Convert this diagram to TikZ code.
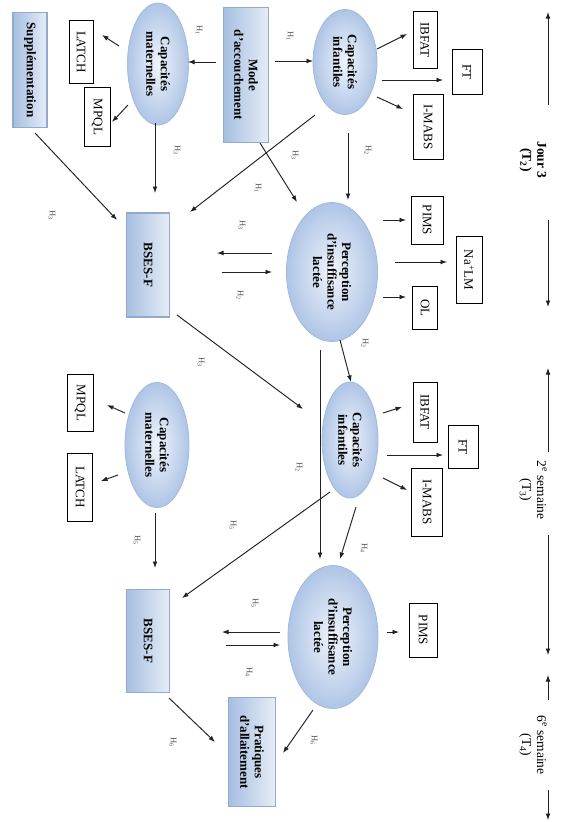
\documentclass[tikz,border=0pt]{standalone}
\usepackage{fontspec}
\setmainfont{Liberation Serif}
\usetikzlibrary{shapes.geometric,arrows.meta}
\definecolor{ellout}{HTML}{AFC5E6}
\definecolor{ellin}{HTML}{EFF4FB}
\definecolor{ellrim}{HTML}{A3BADD}
\definecolor{boxdark}{HTML}{A6BFE0}
\definecolor{boxlight}{HTML}{E6EDF7}
\definecolor{boxedge}{HTML}{93AACD}
\definecolor{linec}{HTML}{222222}
\begin{document}
\begin{tikzpicture}[x=1pt,y=-1pt,
  ell/.style={ellipse, rotate=-90, inner sep=0pt, shade, inner color=ellin, outer color=ellout,
    draw=ellrim, line width=0.8pt,
    font=\bfseries\fontsize{13}{14.5}\selectfont, align=center},
  gbox/.style={rectangle, rotate=-90, draw=boxedge, line width=1.1pt, left color=boxdark, right color=boxlight,
    font=\bfseries\fontsize{13}{14.5}\selectfont, align=center, inner sep=0pt},
  wbox/.style={rectangle, rotate=-90, draw=black, line width=0.6pt, fill=white, inner sep=0pt,
    font=\fontsize{13}{14.5}\selectfont},
  hlab/.style={rotate=-90, font=\fontsize{8.5}{9}\selectfont, text=black!70, inner sep=0pt},
  tlab/.style={rotate=-90, align=center, font=\fontsize{13.5}{15}\selectfont, inner sep=0pt},
  arr/.style={draw=linec, line width=0.95pt, -{Latex[length=6.5pt,width=4.8pt]}},
]
\useasboundingbox (0,0) rectangle (564,822);
\fill[white] (0,0) rectangle (564,822);

% ---------- Jour 3 ----------
\node[gbox, minimum width=115pt, minimum height=34pt] (supp) at (30,70) {Supplémentation};
\node[wbox, minimum width=63pt, minimum height=24pt] (latch1) at (81,52) {LATCH};
\node[wbox, minimum width=59pt, minimum height=26pt] (mpql1) at (97,117) {MPQL};
\node[ell, minimum width=122pt, minimum height=61pt] (mat1) at (158,64) {Capacités\\maternelles};
\node[gbox, minimum width=135pt, minimum height=45pt] (mode) at (246,75) {Mode\\d’accouchement};
\node[ell, minimum width=105pt, minimum height=64pt] (inf1) at (345,62) {Capacités\\infantiles};
\node[wbox, minimum width=57pt, minimum height=24pt] (ibfat1) at (425,40) {IBFAT};
\node[wbox, minimum width=45pt, minimum height=30pt] (ft1) at (467,72) {FT};
\node[wbox, minimum width=65pt, minimum height=30pt] (imabs1) at (428,127) {I-MABS};
\node[gbox, minimum width=104pt, minimum height=43pt] (bses1) at (148,265) {BSES-F};
\node[ell, minimum width=139pt, minimum height=91pt] (perc1) at (332,272) {Perception\\d’insuffisance\\lactée};
\node[wbox, minimum width=48pt, minimum height=32pt] (pims1) at (427,220) {PIMS};
\node[wbox, minimum width=67pt, minimum height=26pt] (nalm) at (469,270) {Na\textsuperscript{+}LM};
\node[wbox, minimum width=43pt, minimum height=25pt] (ol) at (425,308) {OL};

% ---------- 2e semaine ----------
\node[ell, minimum width=116pt, minimum height=56pt] (inf2) at (350,440) {Capacités\\infantiles};
\node[wbox, minimum width=60pt, minimum height=24pt] (ibfat2) at (425,412) {IBFAT};
\node[wbox, minimum width=43pt, minimum height=30pt] (ft2) at (463,447) {FT};
\node[wbox, minimum width=68pt, minimum height=31pt] (imabs2) at (427,502) {I-MABS};
\node[ell, minimum width=125pt, minimum height=64pt] (mat2) at (157,445) {Capacités\\maternelles};
\node[wbox, minimum width=57pt, minimum height=26pt] (mpql2) at (80,403) {MPQL};
\node[wbox, minimum width=68pt, minimum height=25pt] (latch2) at (80,487) {LATCH};

% ---------- 6e semaine ----------
\node[gbox, minimum width=103pt, minimum height=43pt] (bses2) at (148,641) {BSES-F};
\node[ell, minimum width=143pt, minimum height=90pt] (perc2) at (333,637) {Perception\\d’insuffisance\\lactée};
\node[wbox, minimum width=54pt, minimum height=28pt] (pims2) at (423,630) {PIMS};
\node[gbox, minimum width=109pt, minimum height=47pt] (prat) at (252,752) {Pratiques\\d’allaitement};

% ---------- connectors ----------
\draw[arr] ([shift={(-30,-13)}]mode.center) -- ([shift={(30,-2)}]mat1.center);
\draw[arr] ([shift={(29,-14)}]mode.center) -- ([shift={(-32,-1)}]inf1.center);
\draw[arr] ([shift={(-39,-18)}]mat1.center) -- ([shift={(21,-17)}]latch1.center);
\draw[arr] ([shift={(-30,41)}]mat1.center) -- ([shift={(15,5)}]mpql1.center);
\draw[arr] ([shift={(-3,59)}]mat1.center) -- ([shift={(7,-72)}]bses1.center);
\draw[arr] ([shift={(5,63)}]supp.center) -- ([shift={(-31,-45)}]bses1.center);
\draw[arr] ([shift={(-30,53)}]inf1.center) -- ([shift={(42,-53)}]bses1.center);
\draw[arr] ([shift={(14,68)}]mode.center) -- ([shift={(-35,-70)}]perc1.center);
\draw[arr] ([shift={(3,71)}]inf1.center) -- ([shift={(16,-72)}]perc1.center);
\draw[arr] ([shift={(32,-13)}]inf1.center) -- ([shift={(-18,-6)}]ibfat1.center);
\draw[arr] ([shift={(37,18)}]inf1.center) -- ([shift={(-24,8)}]ft1.center);
\draw[arr] ([shift={(32,35)}]inf1.center) -- ([shift={(-25,-18)}]imabs1.center);
\draw[arr] ([shift={(-60,-19)}]perc1.center) -- ([shift={(69,-12)}]bses1.center);
\draw[arr] ([shift={(74,7)}]bses1.center) -- ([shift={(-60,0)}]perc1.center);
\draw[arr] ([shift={(51,-52)}]perc1.center) -- ([shift={(-21,0)}]pims1.center);
\draw[arr] ([shift={(63,-10)}]perc1.center) -- ([shift={(-22,-8)}]nalm.center);
\draw[arr] ([shift={(51,25)}]perc1.center) -- ([shift={(-19,-11)}]ol.center);
\draw[arr] ([shift={(8,68)}]perc1.center) -- ([shift={(1,-58)}]inf2.center);
\draw[arr] ([shift={(-12,78)}]perc1.center) -- ([shift={(-13,-78)}]perc2.center);
\draw[arr] ([shift={(29,50)}]bses1.center) -- ([shift={(-47,-31)}]inf2.center);
\draw[arr] ([shift={(33,-27)}]inf2.center) -- ([shift={(-23,-5)}]ibfat2.center);
\draw[arr] ([shift={(37,15)}]inf2.center) -- ([shift={(-20,8)}]ft2.center);
\draw[arr] ([shift={(33,38)}]inf2.center) -- ([shift={(-20,-12)}]imabs2.center);
\draw[arr] ([shift={(6,67)}]inf2.center) -- ([shift={(7,-78)}]perc2.center);
\draw[arr] ([shift={(-20,52)}]inf2.center) -- ([shift={(34,-43)}]bses2.center);
\draw[arr] ([shift={(-32,-32)}]mat2.center) -- ([shift={(27,2)}]mpql2.center);
\draw[arr] ([shift={(-39,30)}]mat2.center) -- ([shift={(21,-6)}]latch2.center);
\draw[arr] ([shift={(-2,68)}]mat2.center) -- ([shift={(7,-73)}]bses2.center);
\draw[arr] ([shift={(-53,-5)}]perc2.center) -- ([shift={(74,-9)}]bses2.center);
\draw[arr] ([shift={(78,4)}]bses2.center) -- ([shift={(-53,8)}]perc2.center);
\draw[arr] ([shift={(54,-5)}]perc2.center) -- ([shift={(-24,2)}]pims2.center);
\draw[arr] ([shift={(21,57)}]bses2.center) -- ([shift={(-37,-10)}]prat.center);
\draw[arr] ([shift={(-20,73)}]perc2.center) -- ([shift={(31,1)}]prat.center);

% ---------- H labels ----------
\node[hlab] (ha) at (199,30) {H\textsubscript{1}};
\node[hlab] (hb) at (290,36) {H\textsubscript{1}};
\node[hlab] (hc) at (177,150) {H\textsubscript{3}};
\node[hlab] (hd) at (52,215) {H\textsubscript{3}};
\node[hlab] (he) at (295,155) {H\textsubscript{3}};
\node[hlab] (hf) at (258,188) {H\textsubscript{1}};
\node[hlab] (hg) at (368,150) {H\textsubscript{2}};
\node[hlab] (hh) at (242,225) {H\textsubscript{3}};
\node[hlab] (hi) at (240,295) {H\textsubscript{2}};
\node[hlab] (hj) at (365,343) {H\textsubscript{2}};
\node[hlab] (hk) at (299,467) {H\textsubscript{2}};
\node[hlab] (hl) at (201,362) {H\textsubscript{3}};
\node[hlab] (hm) at (364,548) {H\textsubscript{4}};
\node[hlab] (hn) at (233,525) {H\textsubscript{5}};
\node[hlab] (ho) at (137,540) {H\textsubscript{5}};
\node[hlab] (hp) at (255,603) {H\textsubscript{5}};
\node[hlab] (hq) at (249,672) {H\textsubscript{4}};
\node[hlab] (hr) at (173,742) {H\textsubscript{6}};
\node[hlab] (hs) at (314,740) {H\textsubscript{6}};

% ---------- timeline ----------
\node[tlab] (t2) at (533,160) {\textbf{Jour 3}\\\textbf{(T\textsubscript{2})}};
\node[tlab] (t3) at (533,490) {2\textsuperscript{e} semaine\\(T\textsubscript{3})};
\node[tlab] (t4) at (533,745) {6\textsuperscript{e} semaine\\(T\textsubscript{4})};
\coordinate (a1s) at (548,105); \coordinate (a1e) at (548,12);
\coordinate (a2s) at (548,220); \coordinate (a2e) at (548,307);
\coordinate (a3s) at (548,452); \coordinate (a3e) at (548,368);
\coordinate (a4s) at (548,535); \coordinate (a4e) at (548,655);
\coordinate (a5s) at (548,700); \coordinate (a5e) at (548,675);
\coordinate (a6s) at (548,790); \coordinate (a6e) at (548,820);
\draw[arr] (a1s) -- (a1e);
\draw[arr] (a2s) -- (a2e);
\draw[arr] (a3s) -- (a3e);
\draw[arr] (a4s) -- (a4e);
\draw[arr] (a5s) -- (a5e);
\draw[arr] (a6s) -- (a6e);
\end{tikzpicture}
\end{document}
